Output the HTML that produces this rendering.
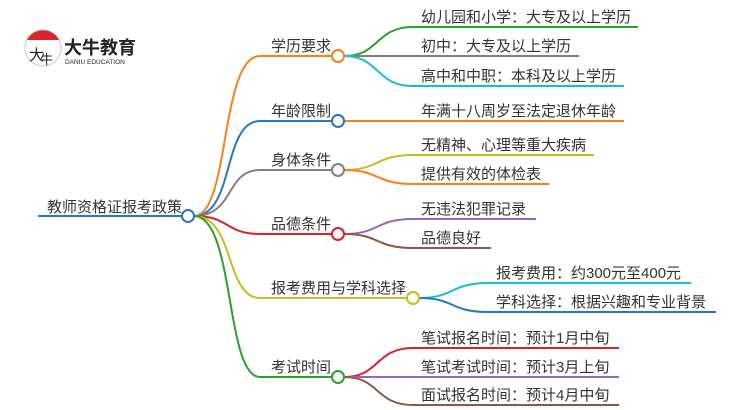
<!DOCTYPE html>
<html><head><meta charset="utf-8"><style>
html,body{margin:0;padding:0;background:#fff;}
svg{display:block;}
text{font-family:"Liberation Sans","Noto Sans CJK SC",sans-serif;font-size:15px;fill:#333;}
</style></head><body>
<svg width="750" height="410" viewBox="0 0 750 410" xmlns="http://www.w3.org/2000/svg">
<g fill="none" stroke-width="2">
<!-- root -->
<line x1="38" y1="216" x2="182" y2="216" stroke="#2678c0"/>
<!-- root -> level1 -->
<path d="M194,216 C230,216 220,56 260,56 L332,56" stroke="#f7821b"/>
<path d="M194,216 C235,216 222,121 260,121 L332,121" stroke="#2678c0"/>
<path d="M194,216 C235,216 225,170 260,170 L332,170" stroke="#808080"/>
<path d="M194,216 C230,216 225,234 260,234 L332,234" stroke="#e02020"/>
<path d="M194,216 C235,216 225,298 260,298 L407,298" stroke="#c0c020"/>
<path d="M194,216 C235,216 225,377 260,377 L332,377" stroke="#2ca02c"/>
<!-- 学历 -->
<path d="M344,56 C380,56 375,27 413,27 L638,27" stroke="#2ca02c"/>
<path d="M344,56 L579,56" stroke="#808080"/>
<path d="M344,56 C380,56 375,86 413,86 L624,86" stroke="#17becf"/>
<!-- 年龄 -->
<path d="M344,121 L624,121" stroke="#f7821b"/>
<!-- 身体 -->
<path d="M344,170 C380,170 375,155 413,155 L594,155" stroke="#c0c020"/>
<path d="M344,170 C380,170 375,184 413,184 L549,184" stroke="#f7821b"/>
<!-- 品德 -->
<path d="M344,234 C380,234 375,219 413,219 L536,219" stroke="#9467bd"/>
<path d="M344,234 C380,234 375,248 413,248 L491,248" stroke="#8c564b"/>
<!-- 报考 -->
<path d="M419,298 C455,298 450,283 488,283 L691,283" stroke="#17becf"/>
<path d="M419,298 C455,298 450,312 488,312 L716,312" stroke="#2678c0"/>
<!-- 考试 -->
<path d="M344,377 C380,377 375,348 413,348 L619,348" stroke="#e02020"/>
<path d="M344,377 L619,377" stroke="#9467bd"/>
<path d="M344,377 C380,377 375,405 413,405 L619,405" stroke="#8c564b"/>
</g>
<g fill="#fff" stroke-width="2">
<circle cx="188" cy="216" r="6" stroke="#2678c0"/>
<circle cx="338" cy="56" r="6" stroke="#f7821b"/>
<circle cx="338" cy="121" r="6" stroke="#2678c0"/>
<circle cx="338" cy="170" r="6" stroke="#808080"/>
<circle cx="338" cy="234" r="6" stroke="#e02020"/>
<circle cx="413" cy="298" r="6" stroke="#c0c020"/>
<circle cx="338" cy="377" r="6" stroke="#2ca02c"/>
</g>
<text x="47" y="212">教师资格证报考政策</text>
<text x="271" y="51">学历要求</text>
<text x="271" y="116">年龄限制</text>
<text x="271" y="165">身体条件</text>
<text x="271" y="229">品德条件</text>
<text x="271" y="293">报考费用与学科选择</text>
<text x="271" y="372">考试时间</text>
<text x="421" y="22">幼儿园和小学：大专及以上学历</text>
<text x="421" y="51">初中：大专及以上学历</text>
<text x="421" y="81">高中和中职：本科及以上学历</text>
<text x="421" y="116">年满十八周岁至法定退休年龄</text>
<text x="421" y="150">无精神、心理等重大疾病</text>
<text x="421" y="179">提供有效的体检表</text>
<text x="421" y="214">无违法犯罪记录</text>
<text x="421" y="243">品德良好</text>
<text x="496" y="278">报考费用：约300元至400元</text>
<text x="496" y="307">学科选择：根据兴趣和专业背景</text>
<text x="421" y="343">笔试报名时间：预计1月中旬</text>
<text x="421" y="372">笔试考试时间：预计3月上旬</text>
<text x="421" y="400">面试报名时间：预计4月中旬</text>
<!-- logo -->
<circle cx="43" cy="48" r="18" fill="#fff" stroke="#ccc" stroke-width="1"/>
<path d="M27,40 A18,18 0 0 1 59,40 Z" fill="#d9262c"/>
<text x="29" y="60" style="font-size:15px;fill:#222;">大</text>
<text x="40" y="64" style="font-size:13px;fill:#222;">牛</text>
<text x="64" y="54" style="font-size:18px;font-weight:bold;fill:#222;">大牛教育</text>
<text x="65" y="64" style="font-size:6.5px;fill:#222;">DANIU EDUCATION</text>
</svg>
</body></html>
